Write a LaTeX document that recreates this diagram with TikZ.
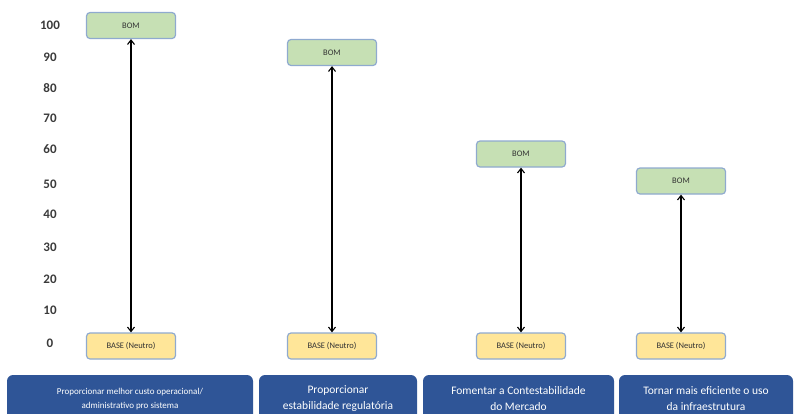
\documentclass[tikz,border=0pt]{standalone}
\usepackage{fontspec}
\setmainfont{Carlito}
\usetikzlibrary{arrows.meta}
\definecolor{bomfill}{HTML}{C6E0B4}
\definecolor{basefill}{HTML}{FFE699}
\definecolor{boxline}{HTML}{8FAACF}
\definecolor{catblue}{HTML}{2F5597}
\definecolor{axisgray}{HTML}{3A3A3A}
\tikzset{
  bombox/.style={draw=boxline, line width=1.2pt, fill=bomfill, rounded corners=3.5pt,
    minimum width=89pt, minimum height=26pt, inner sep=0pt, font=\fontsize{8.5}{9}\selectfont, text=black!80},
  basebox/.style={bombox, fill=basefill},
  catbox/.style={fill=catblue, rounded corners=6pt, text=white, align=center, inner sep=0pt,
    minimum height=48pt},
  axislab/.style={font=\fontsize{13}{14}\selectfont\bfseries, text=axisgray, inner sep=0pt},
  linkarrow/.style={{Straight Barb[length=4.5pt,width=7pt]}-{Straight Barb[length=4.5pt,width=7pt]}, line width=1.1pt, black}
}
\begin{document}
\begin{tikzpicture}[x=1pt,y=-1pt]
\useasboundingbox (0,0) rectangle (795,413);
% axis labels
\node[axislab] (t100) at (50,25) {100};
\node[axislab] (t90) at (50,57) {90};
\node[axislab] (t80) at (50,88) {80};
\node[axislab] (t70) at (50,118) {70};
\node[axislab] (t60) at (50,149) {60};
\node[axislab] (t50) at (50,184) {50};
\node[axislab] (t40) at (50,214) {40};
\node[axislab] (t30) at (50,247) {30};
\node[axislab] (t20) at (50,279) {20};
\node[axislab] (t10) at (50,310) {10};
\node[axislab] (t0) at (50,343) {0};
% BOM boxes
\node[bombox] (bom1) at (131,25.5) {BOM};
\node[bombox] (bom2) at (332,52.5) {BOM};
\node[bombox] (bom3) at (521,154) {BOM};
\node[bombox] (bom4) at (681,181) {BOM};
% BASE boxes
\node[basebox] (base1) at (131,346) {BASE (Neutro)};
\node[basebox] (base2) at (332,346) {BASE (Neutro)};
\node[basebox] (base3) at (521,346) {BASE (Neutro)};
\node[basebox] (base4) at (681,346) {BASE (Neutro)};
% arrows
\draw[linkarrow] (bom1.south) -- (base1.north);
\draw[linkarrow] (bom2.south) -- (base2.north);
\draw[linkarrow] (bom3.south) -- (base3.north);
\draw[linkarrow] (bom4.south) -- (base4.north);
% category boxes
\begin{scope}
\clip (0,0) rectangle (795,413);
\node[catbox, minimum width=246pt, font=\fontsize{9}{14}\selectfont] (cat1) at (130,399)
  {Proporcionar melhor custo operacional/\\administrativo pro sistema};
\node[catbox, minimum width=158pt, font=\fontsize{11.5}{16}\selectfont] (cat2) at (338,399)
  {Proporcionar\\estabilidade regulatória};
\node[catbox, minimum width=191pt, font=\fontsize{11.5}{16}\selectfont] (cat3) at (518.5,399)
  {Fomentar a Contestabilidade\\do Mercado};
\node[catbox, minimum width=174pt, font=\fontsize{11.5}{16}\selectfont] (cat4) at (706,399)
  {Tornar mais eficiente o uso\\da infraestrutura};
\end{scope}
\end{tikzpicture}
\end{document}
